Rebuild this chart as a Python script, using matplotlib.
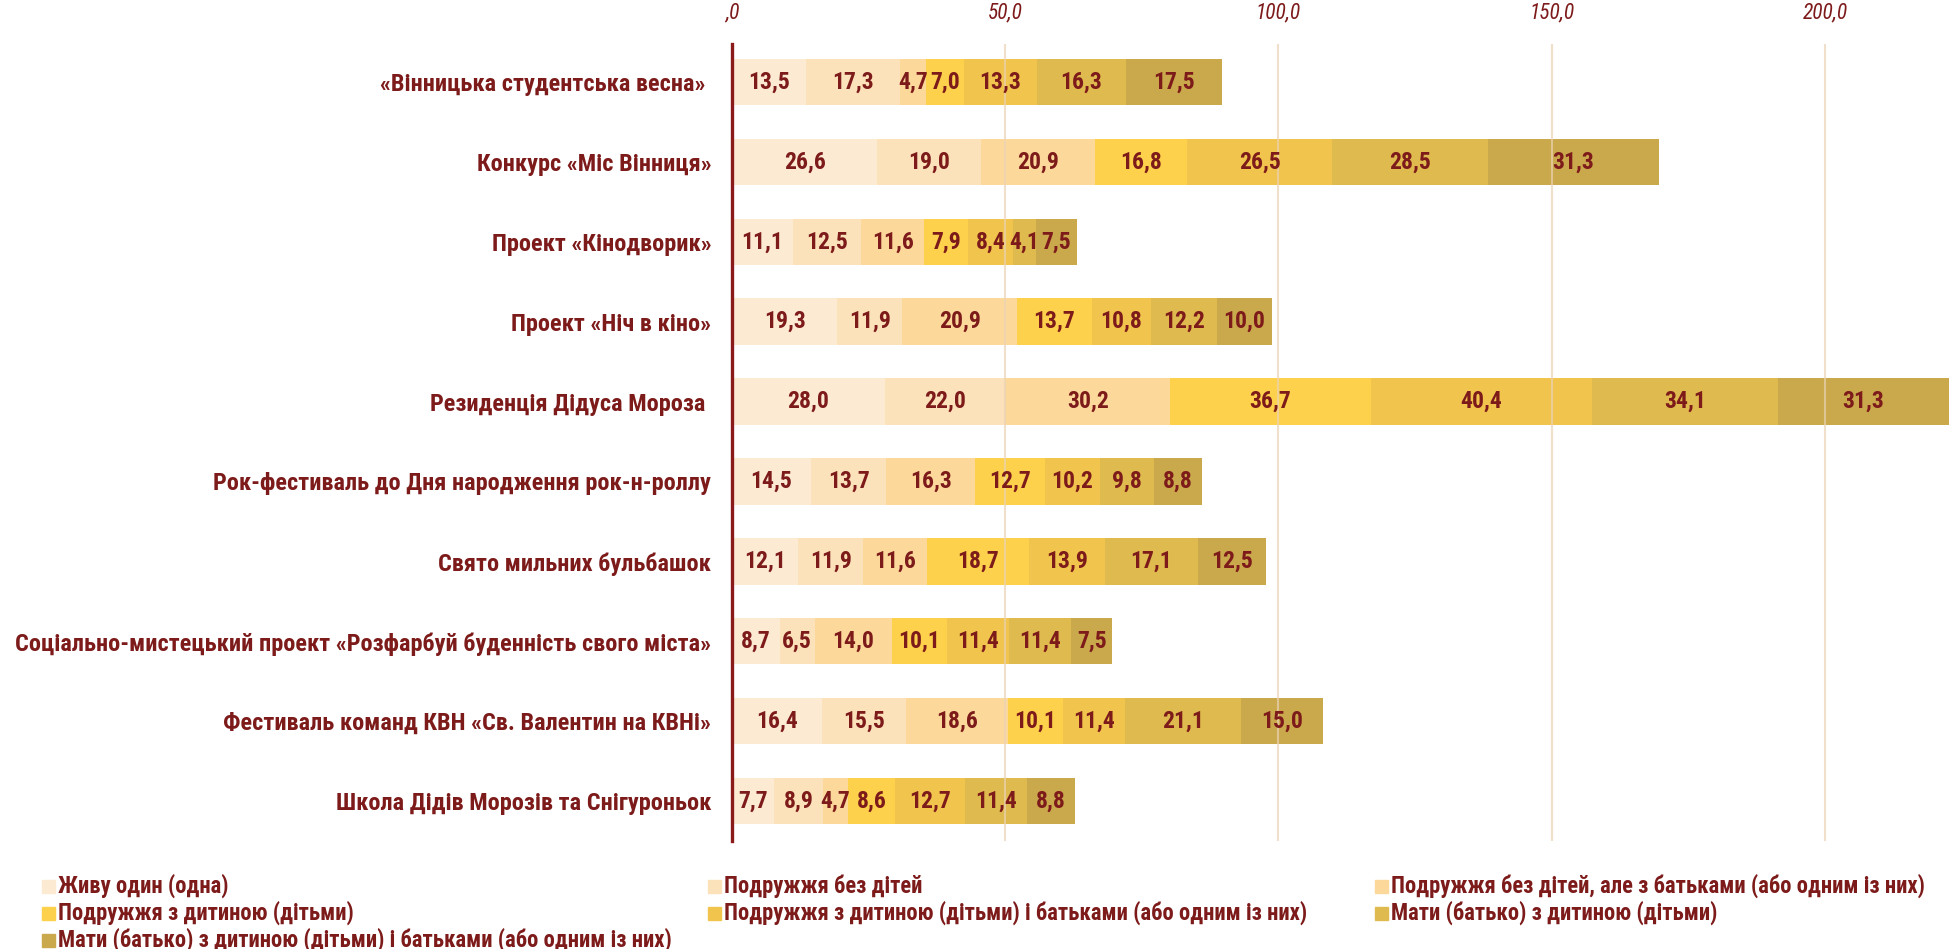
import matplotlib
matplotlib.use("Agg")
import matplotlib.pyplot as plt
from matplotlib import font_manager as fm
from matplotlib.patches import Rectangle
import numpy as np

available = {f.name for f in fm.fontManager.ttflist}
narrow = next((n for n in ["Roboto Condensed", "PT Sans Narrow", "Arimo",
                           "Open Sans Condensed", "IBM Plex Sans Condensed"]
               if n in available), "DejaVu Sans")
plt.rcParams['font.family'] = [narrow, 'DejaVu Sans']

categories = [
    "«Вінницька студентська весна» ",
    "Конкурс «Міс Вінниця»",
    "Проект «Кінодворик»",
    "Проект «Ніч в кіно»",
    "Резиденція Дідуса Мороза ",
    "Рок-фестиваль до Дня народження рок-н-роллу",
    "Свято мильних бульбашок",
    "Соціально-мистецький проект «Розфарбуй буденність свого міста»",
    "Фестиваль команд КВН «Св. Валентин на КВНі»",
    "Школа Дідів Морозів та Снігуроньок",
]

series_names = [
    "Живу один (одна)",
    "Подружжя без дітей",
    "Подружжя без дітей, але з батьками (або одним із них)",
    "Подружжя з дитиною (дітьми)",
    "Подружжя з дитиною (дітьми) і батьками (або одним із них)",
    "Мати (батько) з дитиною (дітьми)",
    "Мати (батько) з дитиною (дітьми) і батьками (або одним із них)",
]

alone = [13.5, 26.6, 11.1, 19.3, 28.0, 14.5, 12.1, 8.7, 16.4, 7.7]
couple = [17.3, 19.0, 12.5, 11.9, 22.0, 13.7, 11.9, 6.5, 15.5, 8.9]
couple_parents = [4.7, 20.9, 11.6, 20.9, 30.2, 16.3, 11.6, 14.0, 18.6, 4.7]
couple_child = [7.0, 16.8, 7.9, 13.7, 36.7, 12.7, 18.7, 10.1, 10.1, 8.6]
couple_child_parents = [13.3, 26.5, 8.4, 10.8, 40.4, 10.2, 13.9, 11.4, 11.4, 12.7]
single_parent = [16.3, 28.5, 4.1, 12.2, 34.1, 9.8, 17.1, 11.4, 21.1, 11.4]
single_parent_parents = [17.5, 31.3, 7.5, 10.0, 31.3, 8.8, 12.5, 7.5, 15.0, 8.8]

series_values = [alone, couple, couple_parents, couple_child,
                 couple_child_parents, single_parent, single_parent_parents]

tick_values = [0, 50, 100, 150, 200]
tick_labels = [",0", "50,0", "100,0", "150,0", "200,0"]

colors = ["#FDEAD3", "#FCE2BA", "#FCD99B", "#FDD14C",
          "#F0C44D", "#DFBA4E", "#CAA84C"]
dark_red = "#7D1A1A"
spine_red = "#8B1A1A"
grid_col = "#EBD3B5"

W, H = 1955, 949
fig = plt.figure(figsize=(W / 100, H / 100), dpi=100)
ax = fig.add_axes([732 / W, 1 - 841 / H, 1 - 732 / W, (841 - 44) / H])

y = np.arange(len(categories))
left = np.zeros(len(categories))
for vals, col in zip(series_values, colors):
    vals = np.array(vals)
    bars = ax.barh(y, vals, left=left, height=0.58, color=col, zorder=2)
    ax.bar_label(bars, labels=[f"{v:.1f}".replace(".", ",") for v in vals],
                 label_type="center", color=dark_red, fontsize=17,
                 fontweight="bold", zorder=5)
    left += vals

ax.set_xlim(0, 223.8)
ax.set_ylim(len(categories) - 0.5, -0.475)

ax.xaxis.tick_top()
ax.set_xticks(tick_values, tick_labels)
ax.tick_params(axis="x", length=0, pad=15, labelsize=15.5, labelcolor=dark_red)
for lbl in ax.get_xticklabels():
    lbl.set_fontstyle("italic")

ax.set_yticks(y, categories)
ax.tick_params(axis="y", length=0, pad=15, labelsize=17.5, labelcolor=dark_red)
for lbl in ax.get_yticklabels():
    lbl.set_fontweight("bold")

for xv in tick_values[1:]:
    ax.axvline(xv, color=grid_col, lw=1.5, alpha=0.7, zorder=3)

for side in ("top", "right", "bottom"):
    ax.spines[side].set_visible(False)
ax.spines["left"].set_color(spine_red)
ax.spines["left"].set_linewidth(2.4)
ax.spines["left"].set_zorder(6)

# Legend laid out row by row in three fixed columns
col_x = [42, 708, 1375]
row_y = [886, 913, 940]
sq = 13
for i, (name, col) in enumerate(zip(series_names, colors)):
    r, c = divmod(i, 3)
    x0, y0 = col_x[c], row_y[r]
    fig.patches.append(Rectangle((x0 / W, 1 - (y0 + sq / 2) / H), sq / W, sq / H,
                                 transform=fig.transFigure, color=col))
    fig.text((x0 + sq + 3) / W, 1 - y0 / H, name, ha="left", va="center",
             fontsize=16.3, fontweight="bold", color=dark_red)

fig.savefig("out.png", dpi=100, facecolor="white")
